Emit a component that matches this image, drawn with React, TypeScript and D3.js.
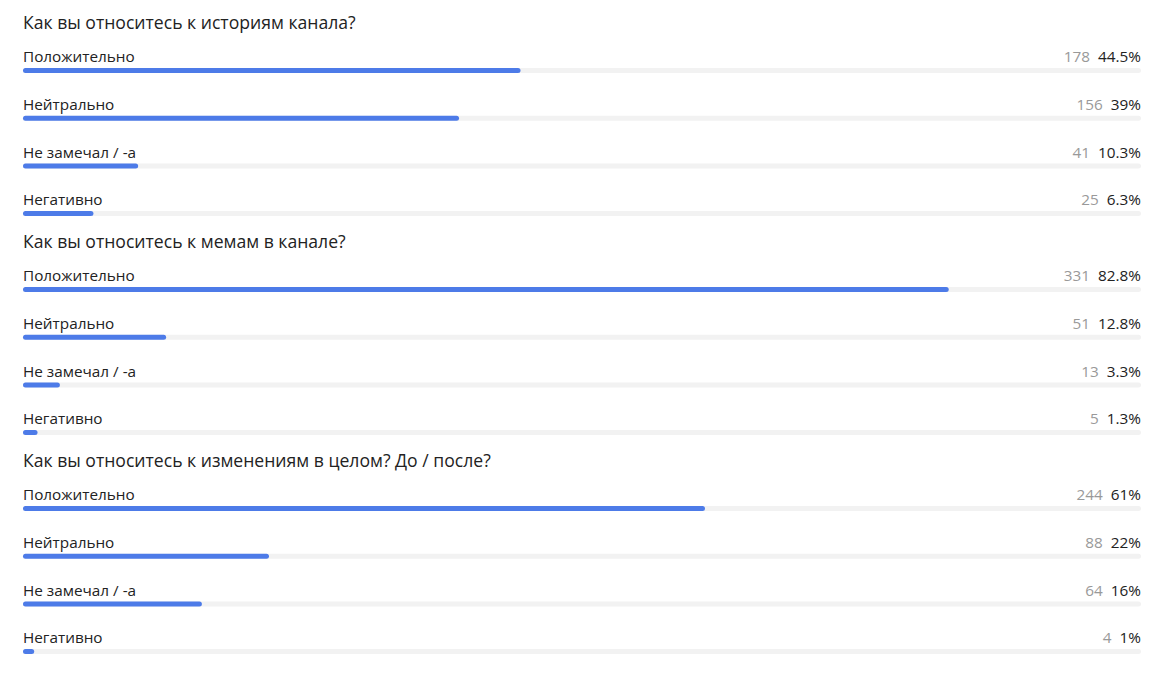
import React from "react";
import * as d3 from "d3";

const questions = [
  "Как вы относитесь к историям канала?",
  "Как вы относитесь к мемам в канале?",
  "Как вы относитесь к изменениям в целом? До / после?",
];
const options = ["Положительно", "Нейтрально", "Не замечал / -а", "Негативно"];
const counts = [
  [178, 156, 41, 25],
  [331, 51, 13, 5],
  [244, 88, 64, 4],
];
const percents = [
  [44.5, 39, 10.3, 6.3],
  [82.8, 12.8, 3.3, 1.3],
  [61, 22, 16, 1],
];

const W = 1172;
const H = 683;
const left = 23;
const right = 1141;

export default function App() {
  const x = d3.scaleLinear().domain([0, 100]).range([left, right]);
  const sectionY = d3.scaleLinear().domain([0, 1]).range([22, 241]);
  const font = "'Open Sans', 'Noto Sans', sans-serif";
  return (
    <svg width={W} height={H} style={{ position: "absolute", left: 0, top: 0, background: "#fff" }} fontFamily={font}>
      {questions.map((q, si) => {
        const y0 = sectionY(si);
        return (
          <g key={si}>
            <text x={left} y={y0 + 1} dy="0.35em" fontSize={17.6} fill="#222">{q}</text>
            {options.map((o, i) => {
              const ly = y0 + 34 + i * 47.7;
              const by = ly + 12;
              return (
                <g key={i}>
                  <text x={left} y={ly + 1} dy="0.35em" fontSize={15.3} fill="#222">{o}</text>
                  <text x={right} y={ly + 1} dy="0.35em" fontSize={15.3} textAnchor="end">
                    <tspan fill="#999">{counts[si][i]}</tspan>
                    <tspan dx={8} fill="#222">{percents[si][i] + "%"}</tspan>
                  </text>
                  <rect x={left} y={by} width={x(100) - left} height={5} rx={2.5} fill="#f2f2f2" />
                  <rect x={left} y={by} width={x(percents[si][i]) - left} height={5} rx={2.5} fill="#4d7be8" />
                </g>
              );
            })}
          </g>
        );
      })}
    </svg>
  );
}
